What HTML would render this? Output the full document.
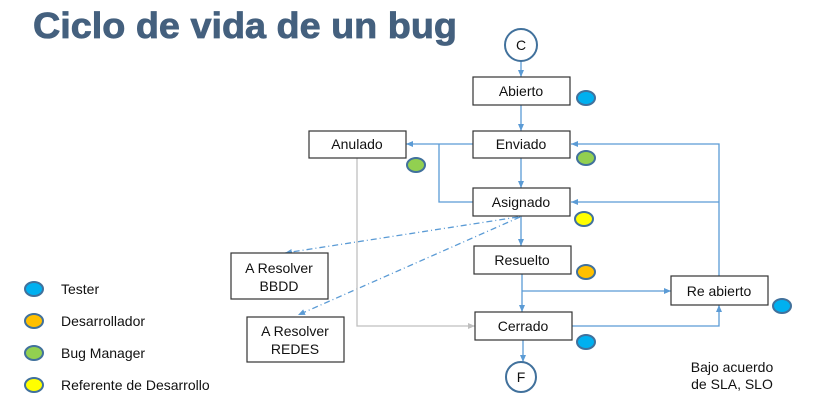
<!DOCTYPE html>
<html><head><meta charset="utf-8"><style>
html,body{margin:0;padding:0;background:#fff;}
svg{display:block;}
text{font-family:"Liberation Sans",sans-serif;}
</style></head><body>
<svg width="817" height="408" viewBox="0 0 817 408" xmlns="http://www.w3.org/2000/svg">
<defs>
<marker id="a" markerWidth="8" markerHeight="8" refX="7" refY="4" orient="auto" markerUnits="userSpaceOnUse"><path d="M0,1 L7,4 L0,7 z" fill="#5b9bd5"/></marker>
<marker id="g" markerWidth="8" markerHeight="8" refX="7" refY="4" orient="auto" markerUnits="userSpaceOnUse"><path d="M0,1 L7,4 L0,7 z" fill="#bfbfbf"/></marker>
</defs>
<text x="33" y="38" font-size="36" font-weight="bold" fill="#44607e" stroke="#44607e" stroke-width="0.8" textLength="424" lengthAdjust="spacingAndGlyphs">Ciclo de vida de un bug</text>

<g stroke="#5b9bd5" stroke-width="1.3" fill="none">
<line x1="521" y1="61" x2="521" y2="77" marker-end="url(#a)"/>
<line x1="521" y1="105" x2="521" y2="131" marker-end="url(#a)"/>
<line x1="521" y1="158" x2="521" y2="188" marker-end="url(#a)"/>
<line x1="521" y1="216" x2="521" y2="246" marker-end="url(#a)"/>
<line x1="522" y1="274" x2="522" y2="312" marker-end="url(#a)"/>
<line x1="523" y1="340" x2="523" y2="362" marker-end="url(#a)"/>
<line x1="473" y1="144" x2="406" y2="144" marker-end="url(#a)"/>
<polyline points="439,144 439,202 473,202"/>
<line x1="522" y1="291" x2="671" y2="291" marker-end="url(#a)"/>
<polyline points="572,326 719,326 719,305" marker-end="url(#a)"/>
<polyline points="719,276 719,144 571,144" marker-end="url(#a)"/>
<line x1="719" y1="202" x2="571" y2="202" marker-end="url(#a)"/>
<line x1="518" y1="217" x2="285" y2="253" stroke-dasharray="6,3,1,3" marker-end="url(#a)"/>
<line x1="520" y1="217" x2="298" y2="315" stroke-dasharray="6,3,1,3" marker-end="url(#a)"/>
</g>
<polyline points="357,158 357,326 475,326" stroke="#bfbfbf" stroke-width="1.3" fill="none" marker-end="url(#g)"/>

<g stroke="#333" stroke-width="1.2" fill="#fff">
<rect x="473" y="77" width="97" height="28"/>
<rect x="473" y="131" width="97" height="27"/>
<rect x="309" y="131" width="97" height="27"/>
<rect x="473" y="188" width="97" height="28"/>
<rect x="474" y="246" width="97" height="28"/>
<rect x="475" y="312" width="97" height="28"/>
<rect x="231" y="253" width="97" height="46"/>
<rect x="247" y="317" width="97" height="45"/>
<rect x="671" y="276" width="97" height="29"/>
</g>
<g stroke="#41719c" stroke-width="2" fill="#fff">
<circle cx="521" cy="45" r="16"/>
<circle cx="521" cy="377" r="15"/>
</g>
<g font-size="14" fill="#111" text-anchor="middle">
<text x="521" y="50">C</text>
<text x="521" y="382">F</text>
<text x="521" y="96">Abierto</text>
<text x="521" y="149">Enviado</text>
<text x="357" y="149">Anulado</text>
<text x="521" y="207">Asignado</text>
<text x="522" y="265">Resuelto</text>
<text x="523" y="331">Cerrado</text>
<text x="279" y="273">A Resolver</text>
<text x="279" y="291">BBDD</text>
<text x="295" y="336">A Resolver</text>
<text x="295" y="354">REDES</text>
<text x="719" y="296">Re abierto</text>
<text x="732" y="372">Bajo acuerdo</text>
<text x="732" y="389">de SLA, SLO</text>
</g>
<g stroke="#41719c" stroke-width="2">
<ellipse cx="586" cy="98" rx="9" ry="7" fill="#00b0f0"/>
<ellipse cx="586" cy="158" rx="9" ry="7" fill="#92d050"/>
<ellipse cx="416" cy="165" rx="9" ry="7" fill="#92d050"/>
<ellipse cx="584" cy="219" rx="9" ry="7" fill="#ffff00"/>
<ellipse cx="586" cy="272" rx="9" ry="7" fill="#ffc000"/>
<ellipse cx="586" cy="342" rx="9" ry="7" fill="#00b0f0"/>
<ellipse cx="782" cy="306" rx="9" ry="7" fill="#00b0f0"/>
<ellipse cx="34" cy="289" rx="9" ry="7" fill="#00b0f0"/>
<ellipse cx="34" cy="321" rx="9" ry="7" fill="#ffc000"/>
<ellipse cx="34" cy="353" rx="9" ry="7" fill="#92d050"/>
<ellipse cx="34" cy="385" rx="9" ry="7" fill="#ffff00"/>
</g>
<g font-size="14" fill="#111">
<text x="61" y="294">Tester</text>
<text x="61" y="326">Desarrollador</text>
<text x="61" y="358">Bug Manager</text>
<text x="61" y="390">Referente de Desarrollo</text>
</g>
</svg>
</body></html>
